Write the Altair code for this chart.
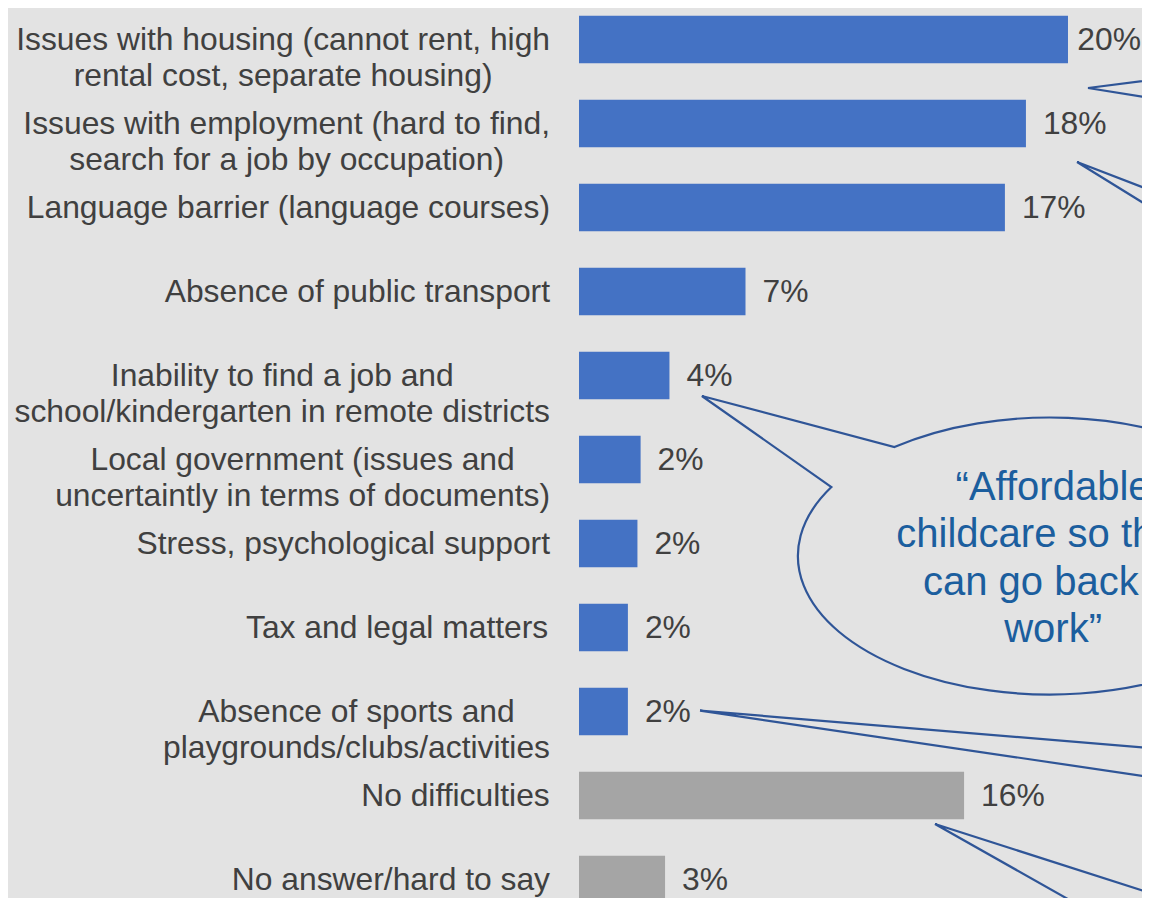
import altair as alt
import pandas as pd

# ---------------- data ----------------
categories = [
    "Issues with housing (cannot rent, high\nrental cost, separate housing)",
    "Issues with employment (hard to find,\nsearch for a job by occupation)",
    "Language barrier (language courses)",
    "Absence of public transport",
    "Inability to find a job and\nschool/kindergarten in remote districts",
    "Local government (issues and\nuncertaintly in terms of documents)",
    "Stress, psychological support",
    "Tax and legal matters",
    "Absence of sports and\nplaygrounds/clubs/activities",
    "No difficulties",
    "No answer/hard to say",
]
values = [20.0, 18.28, 17.42, 6.81, 3.70, 2.52, 2.39, 2.00, 2.00, 15.75, 3.52]
value_labels = ["20%", "18%", "17%", "7%", "4%", "2%", "2%", "2%", "2%", "16%", "3%"]
groups = ["issue"] * 9 + ["other"] * 2

# callout pointer lines (x in %, y in row units): end -> tip -> end
callout_ids = ["c1"] * 3 + ["c2"] * 3 + ["c3"] * 3 + ["c4"] * 3
callout_order = [0, 1, 2] * 4
callout_x = [24.5, 20.82, 24.5,
             24.5, 20.37, 24.5,
             24.5, 4.95, 24.5,
             24.5, 14.56, 21.62]
callout_y = [0.439, 0.577, 0.750,
             1.921, 1.458, 2.201,
             8.463, 7.990, 8.829,
             10.268, 9.339, 10.5]

# speech bubble (centre in data units) and quote
bubble_x = [19.26]
bubble_y = [6.149]
quote_text = ["\u201cAffordable\nchildcare so that I\ncan go back to\nwork\u201d"]
quote_x = [19.39]
quote_y = [5.482]

# ---------------- layout helpers ----------------
FONT = "Liberation Sans"
FS = 31.8
TEXT = "#404040"
NAVY = "#2F5597"
BG = "#e3e3e3"
WIDTH = 563
HEIGHT = 900
XMAX = 23.027
PX_PER_PCT = WIDTH / XMAX
LABEL_GAP = 29   # px between label block and bar start
VALUE_GAP = 17   # px between bar end and value label

# Liberation Sans (Arial-metric) advance widths, units per 1000 em
W = {" ": 278, "(": 333, ")": 333, ",": 278, "/": 278, "%": 889,
     "0": 556, "1": 556, "2": 556, "3": 556, "4": 556, "5": 556, "6": 556,
     "7": 556, "8": 556, "9": 556,
     "a": 556, "b": 556, "c": 500, "d": 556, "e": 556, "f": 278, "g": 556,
     "h": 556, "i": 222, "j": 222, "k": 500, "l": 222, "m": 833, "n": 556,
     "o": 556, "p": 556, "q": 556, "r": 333, "s": 500, "t": 278, "u": 556,
     "v": 500, "w": 722, "x": 500, "y": 500, "z": 500,
     "A": 667, "I": 278, "L": 556, "S": 667, "T": 611, "N": 722}


def text_px(s):
    return sum(W.get(ch, 556) for ch in s) * FS / 1000.0


# centre of each (centre-justified) label block, in x-scale units
label_centre = [
    -(LABEL_GAP + max(text_px(line) for line in c.split("\n")) / 2) / PX_PER_PCT
    for c in categories
]
# value-label start, kept inside the visible frame
value_pos = [
    min(v + VALUE_GAP / PX_PER_PCT, XMAX - (text_px(t) + 1) / PX_PER_PCT)
    for v, t in zip(values, value_labels)
]

# ---------------- tables ----------------
bars = pd.DataFrame({
    "cat": categories,
    "value": values,
    "label": value_labels,
    "group": groups,
    "idx": list(range(len(categories))),
    "lx": label_centre,
    "vx": value_pos,
})
callouts = pd.DataFrame({"id": callout_ids, "o": callout_order,
                         "x": callout_x, "y": callout_y})
bubble = pd.DataFrame({"x": bubble_x, "y": bubble_y})
quote = pd.DataFrame({"t": quote_text, "x": quote_x, "y": quote_y})

xscale = alt.Scale(domain=[0, XMAX], nice=False, zero=False)
yscale = alt.Scale(domain=[-0.375, -0.375 + HEIGHT / 84.0], nice=False,
                   zero=False, reverse=True)
HALF = 0.283

base = alt.Chart(bars)

bar_layer = base.transform_calculate(
    x0="0", ylo=f"datum.idx - {HALF}", yhi=f"datum.idx + {HALF}"
).mark_rect(clip=True).encode(
    x=alt.X("x0:Q", scale=xscale, axis=None),
    x2="value:Q",
    y=alt.Y("ylo:Q", scale=yscale, axis=None),
    y2="yhi:Q",
    color=alt.Color("group:N", scale=alt.Scale(domain=["issue", "other"],
                                               range=["#4472C4", "#A5A5A5"]),
                    legend=None),
)

value_text = base.mark_text(
    align="left", baseline="middle", font=FONT, fontSize=FS, color=TEXT
).encode(
    x=alt.X("vx:Q", scale=xscale, axis=None),
    y=alt.Y("idx:Q", scale=yscale, axis=None),
    text="label:N",
)

cat_text = base.mark_text(
    align="center", baseline="middle", font=FONT, fontSize=FS,
    lineBreak="\n", lineHeight=36.7, color=TEXT,
).encode(
    x=alt.X("lx:Q", scale=xscale, axis=None),
    y=alt.Y("idx:Q", scale=yscale, axis=None),
    text="cat:N",
)

lines = alt.Chart(callouts).mark_line(color=NAVY, strokeWidth=2.2, clip=True).encode(
    x=alt.X("x:Q", scale=xscale, axis=None),
    y=alt.Y("y:Q", scale=yscale, axis=None),
    detail="id:N",
    order="o:Q",
)

bubble_shape = ("M -0.617 -0.4325 A 1 0.5496 0 1 1 -0.867 -0.2738 "
                "L -1.381 -0.635 Z")
bubble_layer = alt.Chart(bubble).mark_point(
    shape=bubble_shape, size=254016, filled=False, stroke=NAVY,
    strokeWidth=2.2, opacity=1,
).encode(
    x=alt.X("x:Q", scale=xscale, axis=None),
    y=alt.Y("y:Q", scale=yscale, axis=None),
)

quote_layer = alt.Chart(quote).mark_text(
    align="center", baseline="alphabetic", font=FONT, fontSize=40,
    lineBreak="\n", lineHeight=47.3, color="#1B5E9E",
).encode(
    x=alt.X("x:Q", scale=xscale, axis=None),
    y=alt.Y("y:Q", scale=yscale, axis=None),
    text="t:N",
)

chart = alt.layer(
    bar_layer, value_text, cat_text, lines, bubble_layer, quote_layer
).properties(
    width=WIDTH, height=HEIGHT,
    background=BG,
    padding={"left": 571, "top": 0, "right": 0, "bottom": 0},
    autosize=alt.AutoSizeParams(type="none"),
).configure_view(stroke=None)

chart.save("out.html", embed_options={"renderer": "svg", "actions": False})
